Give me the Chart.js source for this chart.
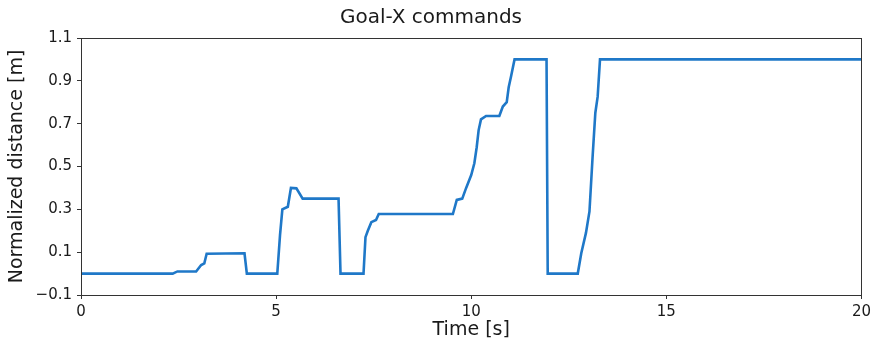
<!DOCTYPE html>
<html>
<head>
<meta charset="utf-8">
<script src="https://cdn.jsdelivr.net/npm/chart.js@4/dist/chart.umd.min.js"></script>
<style>
  html, body { margin: 0; padding: 0; background: #fff; }
  #wrap { width: 875px; height: 343px; }
</style>
</head>
<body>
<div id="wrap"><canvas id="c" width="875" height="343"></canvas></div>
<script>
// Goal-X command trace: time stamps [s] and normalized distance [m]
const timeS = [
  0, 2.35, 2.47, 2.95, 3.08, 3.16, 3.22, 4.19, 4.25, 5.03,
  5.10, 5.16, 5.30, 5.38, 5.52, 5.68, 6.60, 6.65, 7.24, 7.29,
  7.35, 7.44, 7.56, 7.63, 9.53, 9.63, 9.77, 9.87, 10.00, 10.08,
  10.14, 10.19, 10.25, 10.38, 10.72, 10.81, 10.91, 10.96, 11.02, 11.11,
  11.93, 11.96, 12.73, 12.82, 12.94, 13.03, 13.11, 13.18, 13.24, 13.30,
  20
];
const goalX = [
  0.000, 0.000, 0.010, 0.010, 0.040, 0.048, 0.093, 0.095, 0.000, 0.000,
  0.180, 0.300, 0.312, 0.400, 0.398, 0.350, 0.350, 0.000, 0.000, 0.170,
  0.200, 0.240, 0.250, 0.278, 0.278, 0.344, 0.350, 0.400, 0.460, 0.515,
  0.590, 0.670, 0.720, 0.736, 0.736, 0.780, 0.800, 0.870, 0.920, 1.000,
  1.000, 0.000, 0.000, 0.095, 0.190, 0.290, 0.545, 0.750, 0.826, 1.000,
  1.000
];
const xTicks = [0, 5, 10, 15, 20];
const yTicks = [-0.1, 0.1, 0.3, 0.5, 0.7, 0.9, 1.1];

const points = timeS.map((t, i) => ({ x: t, y: goalX[i] }));

const FONT = "'DejaVu Sans', sans-serif";
const AXIS = '#333';
const TEXT = '#1a1a1a';

// Full frame around the plotting area
const frame = {
  id: 'frame',
  afterDraw(chart) {
    const a = chart.chartArea, ctx = chart.ctx;
    ctx.save();
    ctx.strokeStyle = AXIS;
    ctx.lineWidth = 1;
    ctx.strokeRect(Math.round(a.left) + 0.5, Math.round(a.top) + 0.5,
                   Math.round(a.right - a.left), Math.round(a.bottom - a.top));
    ctx.restore();
  }
};

new Chart(document.getElementById('c'), {
  type: 'scatter',
  data: {
    datasets: [{
      data: points,
      showLine: true,
      borderColor: '#1f78c8',
      borderWidth: 2.6,
      pointRadius: 0,
      tension: 0,
      fill: false
    }]
  },
  options: {
    responsive: false,
    animation: false,
    devicePixelRatio: 1,
    layout: { padding: { left: 0, right: 13, top: 0, bottom: 0 } },
    plugins: {
      legend: { display: false },
      tooltip: { enabled: false },
      title: {
        display: true,
        text: 'Goal-X commands',
        color: TEXT,
        font: { family: FONT, size: 20, weight: 'normal' },
        padding: { top: 6, bottom: 8 }
      }
    },
    scales: {
      x: {
        type: 'linear',
        min: 0, max: 20,
        afterBuildTicks(s) { s.ticks = xTicks.map(v => ({ value: v })); },
        afterFit(s) { s.height = 48; },
        grid: { drawOnChartArea: false, color: AXIS, tickLength: 4, tickColor: AXIS },
        border: { display: true, color: AXIS },
        ticks: {
          color: TEXT,
          padding: 4,
          maxRotation: 0,
          font: { family: FONT, size: 15 },
          callback: v => String(v)
        },
        title: {
          display: true,
          text: 'Time [s]',
          color: TEXT,
          font: { family: FONT, size: 19 },
          padding: { top: 0, bottom: 2 }
        }
      },
      y: {
        type: 'linear',
        min: -0.1, max: 1.1,
        afterBuildTicks(s) { s.ticks = yTicks.map(v => ({ value: v })); },
        afterFit(s) { s.width = 81; },
        grid: { drawOnChartArea: false, color: AXIS, tickLength: 4, tickColor: AXIS },
        border: { display: true, color: AXIS },
        ticks: {
          color: TEXT,
          padding: 5,
          font: { family: FONT, size: 15 },
          callback: v => (v < 0 ? '\u2212' : '') + Math.abs(v).toFixed(1)
        },
        title: {
          display: true,
          text: 'Normalized distance [m]',
          color: TEXT,
          font: { family: FONT, size: 19 },
          padding: { top: 6, bottom: 0 }
        }
      }
    }
  },
  plugins: [frame]
});
</script>
</body>
</html>
